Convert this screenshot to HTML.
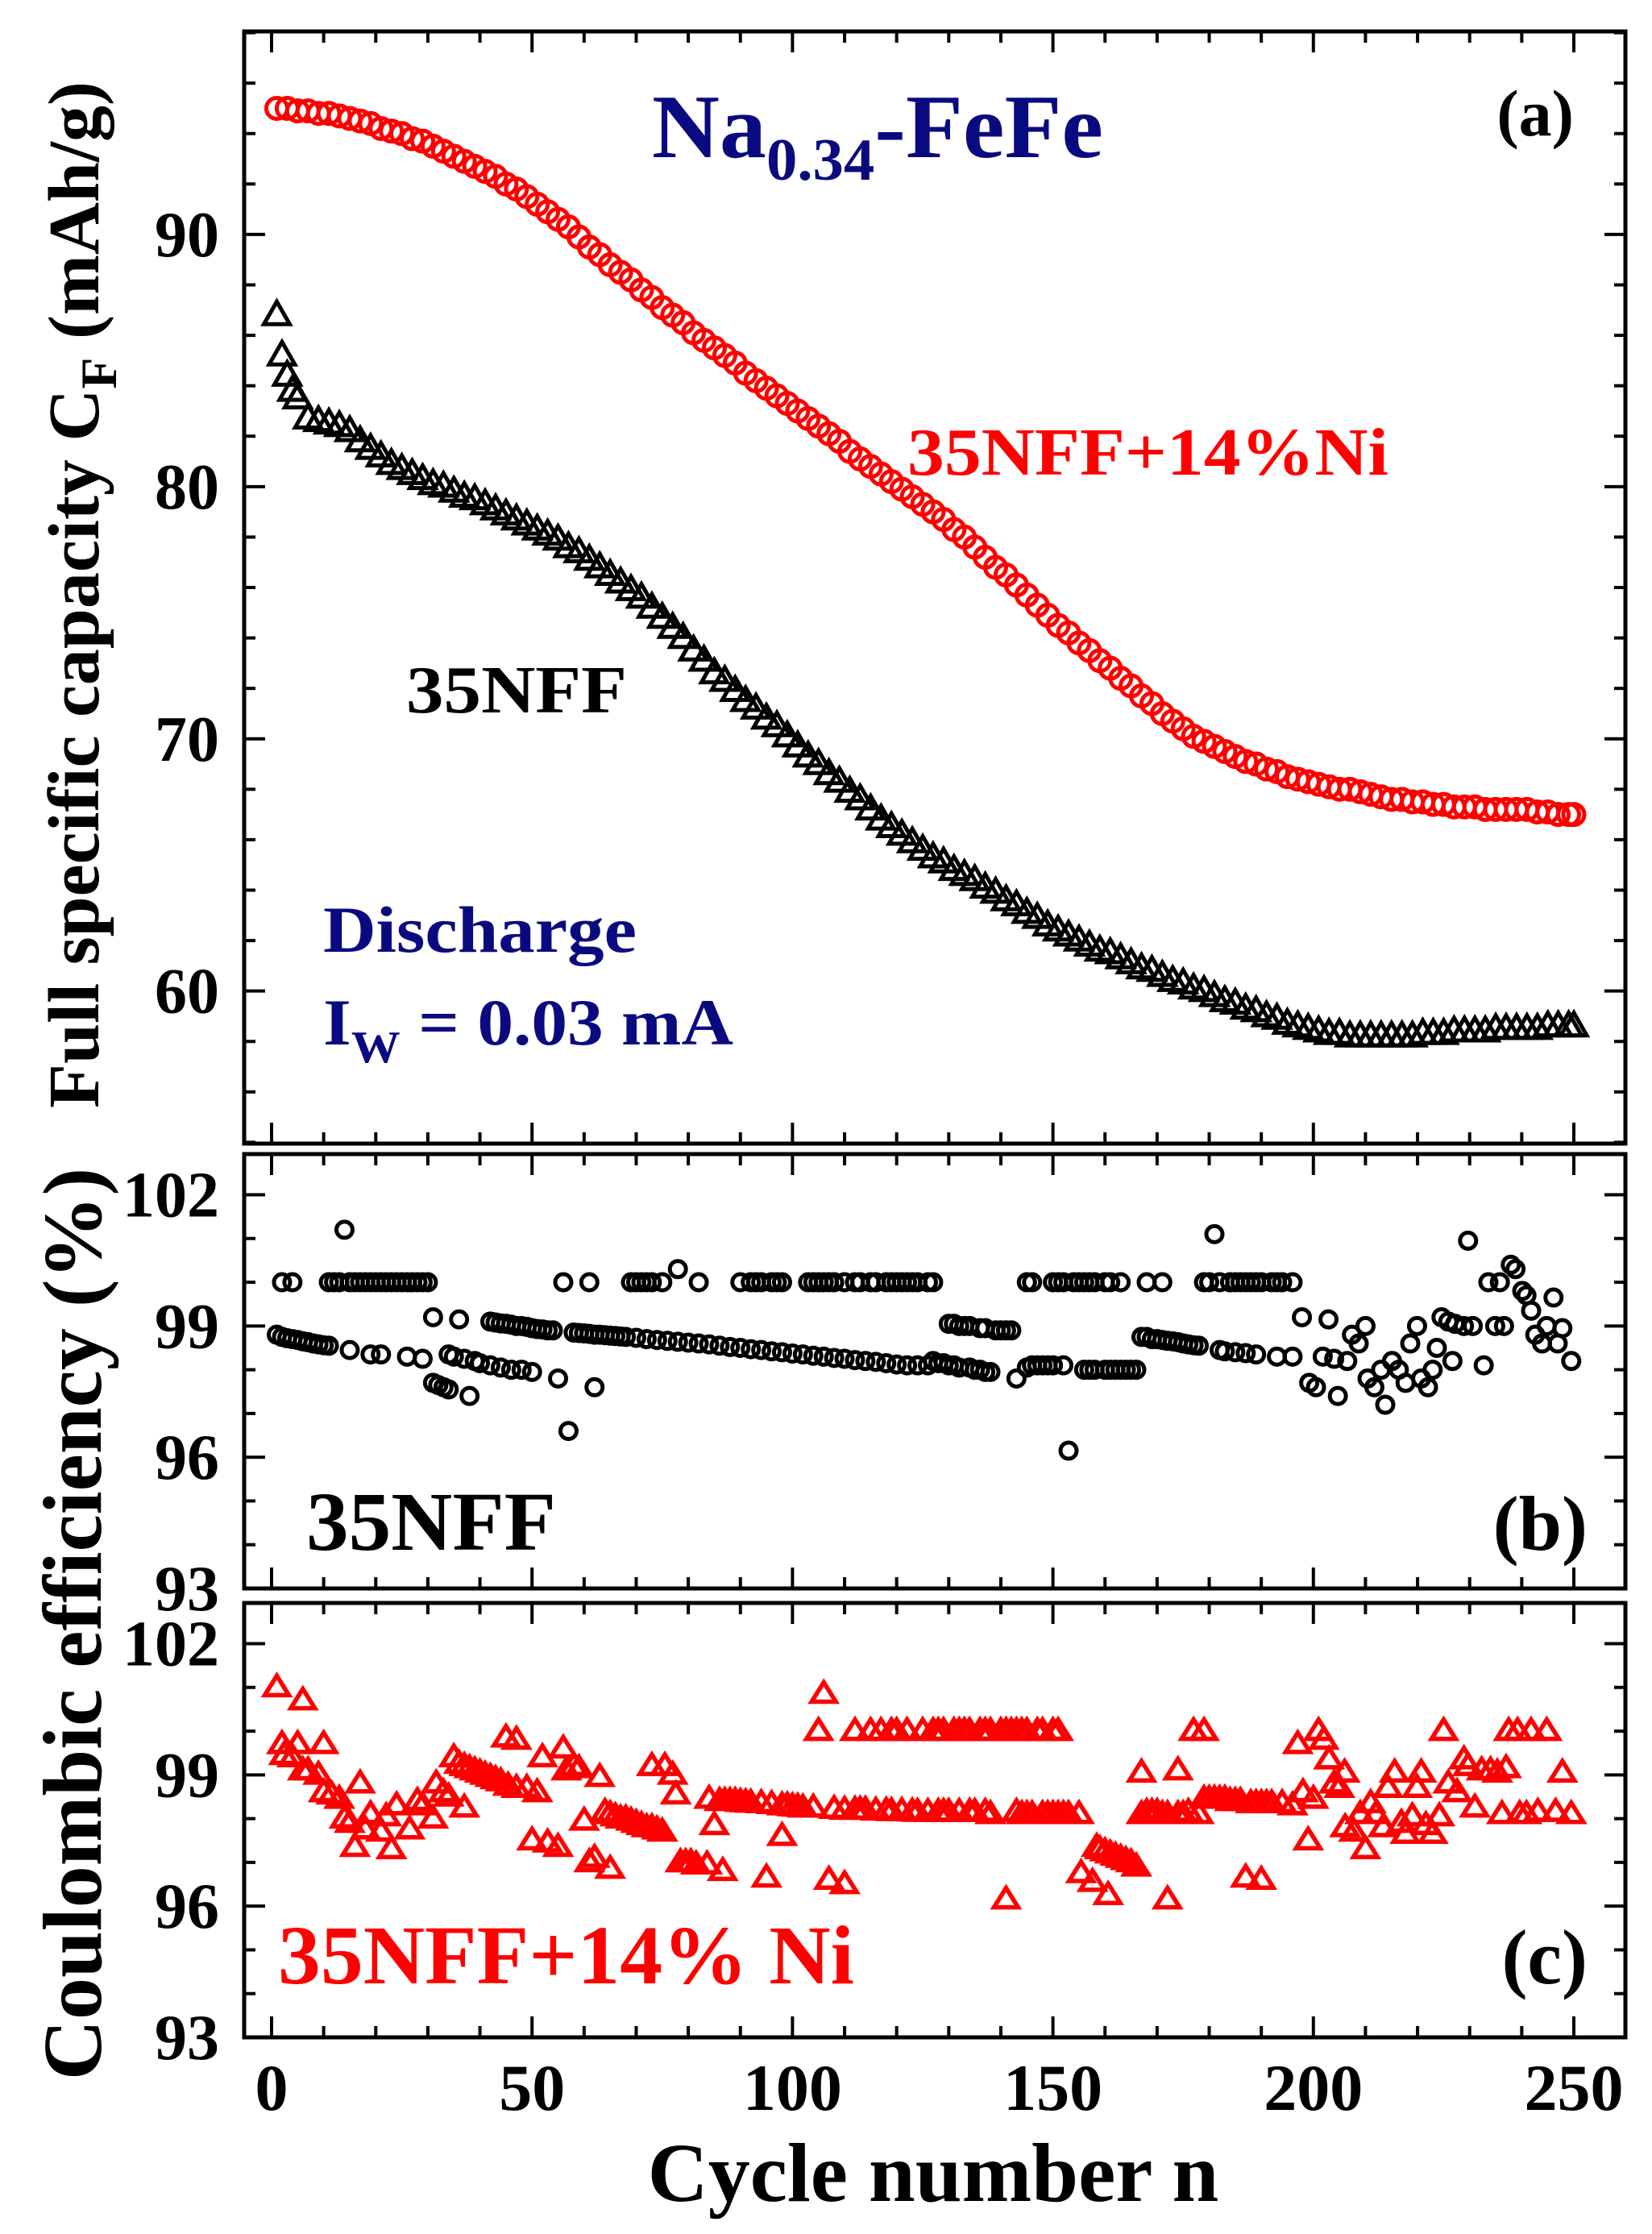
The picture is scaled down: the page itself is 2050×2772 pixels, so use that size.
<!DOCTYPE html>
<html><head><meta charset="utf-8"><style>
html,body{margin:0;padding:0;background:#fff;}
svg{display:block;}
text{font-family:"Liberation Serif",serif;font-weight:bold;}
</style></head><body>
<svg id="chart" width="2050" height="2772" viewBox="0 0 2050 2772" xmlns="http://www.w3.org/2000/svg">
<g id="frames"></g>
<g id="ticks"></g>
<g id="marks"></g>
<g id="labels"></g>
<text transform="translate(122,738) rotate(-90)" text-anchor="middle" font-size="90">Full specific capacity C<tspan font-size="64" dy="22">F</tspan><tspan dy="-22"> (mAh/g)</tspan></text>
<text transform="translate(125,2015) rotate(-90)" text-anchor="middle" font-size="104" font-weight="normal">Coulombic efficiency (%)</text>
<text x="1158" y="2731" text-anchor="middle" font-size="104">Cycle number n</text>
<text x="809" y="195" font-size="112" fill="#0a0a80" textLength="560" lengthAdjust="spacingAndGlyphs">Na<tspan font-size="74" dy="28">0.34</tspan><tspan dy="-28">-FeFe</tspan></text>
<text x="1953" y="168" text-anchor="end" font-size="82">(a)</text>
<text x="1126" y="589" font-size="84" fill="#ff0000" textLength="597" lengthAdjust="spacingAndGlyphs">35NFF+14%Ni</text>
<text x="504" y="884" font-size="84" textLength="274" lengthAdjust="spacingAndGlyphs">35NFF</text>
<text x="401" y="1181" font-size="82" fill="#0a0a80" textLength="389" lengthAdjust="spacingAndGlyphs">Discharge</text>
<text x="401" y="1296" font-size="82" fill="#0a0a80" textLength="509" lengthAdjust="spacingAndGlyphs">I<tspan font-size="56" dy="22">W</tspan><tspan dy="-22"> = 0.03 mA</tspan></text>
<text x="380" y="1923" font-size="104" textLength="310" lengthAdjust="spacingAndGlyphs">35NFF</text>
<text x="1970" y="1923" text-anchor="end" font-size="96">(b)</text>
<text x="345" y="2461" font-size="104" fill="#ff0000" textLength="715" lengthAdjust="spacingAndGlyphs">35NFF+14% Ni</text>
<text x="1970" y="2461" text-anchor="end" font-size="96">(c)</text>
</svg>
<script>
// ---- data ----
const capCyclesRed = [1,3,5,7,9,11,13,15,17,19,21,23,25,27,29,31,33,35,37,39,41,43,45,47,49,51,53,55,57,59,61,63,65,67,69,71,73,75,77,79,81,83,85,87,89,91,93,95,97,99,101,103,105,107,109,111,113,115,117,119,121,123,125,127,129,131,133,135,137,139,141,143,145,147,149,151,153,155,157,159,161,163,165,167,169,171,173,175,177,179,181,183,185,187,189,191,193,195,197,199,201,203,205,207,209,211,213,215,217,219,221,223,225,227,229,231,233,235,237,239,241,243,245,247,249,250];
const capRed = [95.0,95.0,94.9,94.9,94.8,94.8,94.7,94.6,94.5,94.4,94.2,94.1,94.0,93.8,93.7,93.5,93.3,93.1,92.9,92.7,92.5,92.3,92.0,91.8,91.5,91.2,90.9,90.6,90.3,89.9,89.5,89.2,88.8,88.5,88.2,87.8,87.5,87.1,86.8,86.5,86.1,85.8,85.5,85.2,84.9,84.5,84.2,83.9,83.6,83.3,83.0,82.7,82.4,82.1,81.8,81.4,81.1,80.8,80.5,80.2,79.9,79.6,79.3,79.0,78.7,78.3,78.0,77.6,77.2,76.8,76.5,76.1,75.7,75.3,74.9,74.5,74.2,73.8,73.5,73.1,72.8,72.4,72.1,71.7,71.4,71.0,70.7,70.4,70.1,69.9,69.7,69.5,69.3,69.1,69.0,68.8,68.7,68.5,68.4,68.3,68.2,68.1,68.0,68.0,67.9,67.8,67.7,67.6,67.6,67.5,67.5,67.4,67.4,67.3,67.3,67.3,67.2,67.2,67.2,67.2,67.2,67.1,67.1,67.0,67.0,67.0];
const capCyclesBlack = [1,2,3,4,5,7,9,11,13,15,17,19,21,23,25,27,29,31,33,35,37,39,41,43,45,47,49,51,53,55,57,59,61,63,65,67,69,71,73,75,77,79,81,83,85,87,89,91,93,95,97,99,101,103,105,107,109,111,113,115,117,119,121,123,125,127,129,131,133,135,137,139,141,143,145,147,149,151,153,155,157,159,161,163,165,167,169,171,173,175,177,179,181,183,185,187,189,191,193,195,197,199,201,203,205,207,209,211,213,215,217,219,221,223,225,227,229,231,233,235,237,239,241,243,245,247,249,250];
const capBlack = [86.8,85.2,84.4,83.8,83.5,82.7,82.6,82.5,82.4,82.2,81.8,81.5,81.2,80.9,80.7,80.5,80.3,80.1,80.0,79.8,79.6,79.5,79.3,79.1,78.9,78.7,78.5,78.3,78.1,77.9,77.6,77.4,77.1,76.8,76.5,76.2,75.9,75.6,75.2,74.8,74.4,74.0,73.5,73.1,72.6,72.3,71.9,71.5,71.2,70.8,70.5,70.1,69.7,69.3,69.0,68.6,68.3,67.9,67.6,67.2,66.8,66.5,66.2,65.9,65.6,65.3,65.1,64.8,64.6,64.4,64.1,63.9,63.6,63.4,63.1,62.9,62.6,62.4,62.2,62.0,61.8,61.6,61.5,61.3,61.1,60.9,60.8,60.6,60.4,60.3,60.1,60.0,59.8,59.6,59.5,59.3,59.2,59.0,58.9,58.7,58.6,58.5,58.4,58.3,58.3,58.2,58.2,58.2,58.2,58.2,58.2,58.2,58.3,58.3,58.3,58.4,58.4,58.4,58.4,58.5,58.5,58.5,58.5,58.5,58.6,58.6,58.6,58.6];
const ceNFF = [[2,100],[4,100],[11,100],[12,100],[13,100],[14,101.2],[15,100],[16,100],[17,100],[18,100],[19,100],[20,100],[21,100],[22,100],[23,100],[24,100],[25,100],[26,100],[27,100],[28,100],[29,100],[30,100],[56,100],[61,100],[69,100],[70,100],[71,100],[72,100],[73,100],[75,100],[78,100.3],[82,100],[90,100],[92,100],[93,100],[94,100],[96,100],[97,100],[98,100],[103,100],[104,100],[105,100],[106,100],[107,100],[108,100],[110,100],[112,100],[113,100],[115,100],[116,100],[118,100],[119,100],[120,100],[121,100],[122,100],[123,100],[124,100],[126,100],[127,100],[145,100],[146,100],[150,100],[151,100],[152,100],[154,100],[155,100],[156,100],[157,100],[158,100],[160,100],[161,100],[163,100],[168,100],[171,100],[179,100],[180,100],[181,101.1],[182,100],[184,100],[185,100],[186,100],[187,100],[188,100],[189,100],[190,100],[192,100],[193,100],[194,100],[196,100],
[1,98.8],[2,98.75],[3,98.72],[4,98.7],[5,98.68],[6,98.65],[7,98.63],[8,98.6],[9,98.58],[10,98.56],[11,98.55],[15,98.45],[19,98.35],[21,98.35],[26,98.3],[29,98.25],[31,99.2],[36,99.15],[31,97.7],[32,97.65],[33,97.6],[34,97.55],[38,97.4],[34,98.35],[35,98.3],[37,98.25],[39,98.2],[40,98.15],[42,98.1],[44,98.05],[46,98.0],[48,98.0],[50,97.95],[42,99.1],[43,99.08],[44,99.06],[45,99.05],[46,99.03],[47,99.0],[48,99.0],[49,98.98],[50,98.95],[51,98.93],[52,98.92],[53,98.9],[54,98.9],[55,97.8],[57,96.6],[62,97.6],
[58,98.85],[59,98.84],[60,98.83],[61,98.82],[62,98.8],[63,98.8],[64,98.79],[65,98.78],[66,98.77],[67,98.76],[68,98.75],[70,98.73],[72,98.7],[74,98.68],[76,98.66],[78,98.64],[80,98.62],[82,98.6],[84,98.58],[86,98.55],[88,98.52],[90,98.5],[92,98.47],[94,98.45],[96,98.42],[98,98.4],[100,98.37],[102,98.35],[104,98.32],[106,98.3],[108,98.27],[110,98.25],[112,98.22],[114,98.2],[116,98.18],[118,98.15],[120,98.12],[122,98.1],[124,98.1],[126,98.1],
[127,98.2],[128,98.15],[129,98.15],[130,98.1],[131,98.1],[132,98.05],[134,98.05],[135,98.0],[136,98.0],[137,97.95],[138,97.95],
[130,99.05],[131,99.05],[132,99.0],[133,99.0],[134,99.0],[136,98.95],[137,98.95],[139,98.9],[140,98.9],[141,98.9],[142,98.9],
[143,97.8],[145,98.05],[146,98.1],[147,98.1],[148,98.1],[149,98.1],[150,98.1],[152,98.1],[153,96.15],[156,98.0],[157,98.0],[158,98.0],[160,98.0],[161,98.0],[162,98.0],[163,98.0],[164,98.0],[165,98.0],[166,98.0],
[167,98.75],[168,98.75],[169,98.7],[170,98.7],[171,98.68],[172,98.66],[173,98.65],[174,98.63],[175,98.6],[176,98.58],[177,98.56],[178,98.55],[182,98.45],[183,98.42],[185,98.4],[187,98.38],[189,98.35],[193,98.3],[196,98.3],
[197.8,99.2],[202.9,99.15],[199.2,97.7],[200.5,97.6],[204.7,97.4],[201.8,98.3],[204,98.25],[206.5,98.2],[207.4,98.8],[208.7,98.6],[210,99.0],[210.4,97.8],[211.7,97.6],[213,98.0],[213.8,97.2],[215.1,98.2],[216.4,98.0],[217.7,97.7],[218.6,98.6],[219.9,99.0],[220.7,97.8],[222,97.6],[222.9,98.0],[223.7,98.5],[224.6,99.2],[225.9,99.1],[227.2,99.05],[226.7,98.2],[228.9,99.0],[230.6,99.0],[229.7,100.95],[232.7,98.1],[233.6,100.0],[235.8,100.0],[234.9,99.0],[236.6,99.0],[237.9,100.4],[238.8,100.3],[240.1,99.8],[240.9,99.7],[241.8,99.35],[242.6,98.8],[243.9,98.6],[244.8,99.0],[246.9,98.6],[247.8,98.95],[246.1,99.65],[249.5,98.2]];
const ceNi = [[1,101.0],[6,100.7],[2,99.7],[5,99.7],[10,99.7],[2.4,99.45],[4,99.4],[6,99.1],[7,99.1],[9,99.0],[10,98.6],[11.5,98.55],[13,98.45],[14,98.0],[15,97.9],[17,98.8],[16,97.35],[18,97.75],[19,98.1],[21,97.7],[23,97.3],[22,98.05],[24,98.3],[26.5,97.75],[28,98.4],[29,98.3],[31,98.0],[31.6,98.8],[33,98.6],[34,98.5],[37,98.25],[35,99.4],
[36,99.25],[37,99.2],[38,99.15],[39,99.1],[40,99.05],[41,99.0],[42,98.95],[43,98.9],[44,98.85],
[45,99.85],[47,99.8],[45.4,98.75],[47,98.7],[49,98.7],[51,98.6],[50,97.5],[52,99.4],[53,97.45],[55,97.35],[56,99.6],[56.6,99.1],[58,99.2],[59,99.15],[63,98.95],[60,97.95],[61,97.0],[62,97.1],[65,96.85],
[64,98.15],[65,98.1],[66,98.05],[67,98.0],[68,98.0],[69,97.95],[70,97.9],[71,97.85],[72,97.8],[73,97.8],[74,97.75],[75,97.7],
[73,99.2],[75.5,99.2],[77,99.0],[77.6,98.55],[78.5,97.0],[79.5,97.0],[80.5,97.0],[81.5,96.95],[83.6,96.95],[86.6,96.8],[84,98.45],[85,97.85],
[86,98.4],[87,98.4],[88,98.4],[89,98.4],[90,98.38],[91,98.37],[92,98.36],[94,98.35],[96,98.33],[98,98.3],[99,98.3],[100,98.28],[101,98.27],[102,98.25],[104,98.25],[108,98.22],[110,98.2],[112,98.2],[113,98.2],[114,98.2],[116,98.18],[118,98.18],[119,98.17],[121,98.17],[123,98.16],[124,98.15],[126,98.15],[128,98.15],
[95,96.65],[98,97.6],[106,100.85],[105,100.0],[107,96.6],[110,96.5],
[112,100],[115,100],[117,100],[119,100],[120,100],[122,100],[125,100],[127,100],[128,100],[129,100],[131,100],[132,100],[133,100],[134,100],[136,100],[137,100],[138,100],[140,100],[141,100],[142,100],[143,100],[144,100],[145,100],[147,100],[148,100],[150,100],[151,100],
[129,98.15],[130,98.15],[132,98.15],[134,98.15],[135,98.15],[137,98.15],[138,98.1],[143,98.15],[144,98.1],[145,98.1],[146,98.1],[148,98.1],[149,98.1],[150,98.1],[151,98.1],[152,98.1],[153,98.1],[155,98.1],
[141,96.15],[155.4,96.75],[157.6,96.55],[160.6,96.25],[158.4,97.35],[159,97.3],[160,97.25],[161,97.2],[162,97.15],[163,97.1],[164,97.05],[165,97.0],[166,96.9],
[167,99.05],[174,99.1],[172,96.15],
[167,98.1],[168,98.15],[169,98.15],[170,98.15],[171,98.1],[172,98.1],[174,98.1],[175,98.1],[176,98.15],[178,98.1],
[177,100],[179,100],
[179,98.45],[180,98.45],[181,98.45],[182,98.45],[183,98.45],[184,98.4],[185,98.4],[186,98.4],[188,98.35],[189,98.35],[190,98.35],[191,98.35],[192,98.35],[194,98.35],[196,98.3],
[187,96.65],[190,96.6],
[197,99.7],[201,100.0],[202,99.8],[203,99.35],[206,99.05],[204,98.8],[205,98.7],[198,98.6],[200,98.45],[199,97.5],
[206.1,97.8],[207.8,97.7],[209,98.1],[210,97.3],[211,98.35],[212,98.1],[213.4,97.8],
[215.6,99.05],[214.3,98.7],[216.9,97.9],[217.7,97.65],[219,98.05],[219.9,98.7],[220.7,99.05],[221.6,97.85],[222.9,97.65],[224.2,98.05],
[225,100],[225.9,98.8],[227.6,98.6],[228.9,99.35],[229.7,99.2],[231,98.25],[232.3,99.1],[234,99.1],[235.3,99.05],[237,99.15],
[236.2,98.1],[239.6,98.1],[240.9,98.1],[243.1,98.15],[246.5,98.15],[249.5,98.1],
[237.5,100],[239.2,100],[241.8,100],[244.8,100],[247.8,99.05]];
const xTickLabels = [0,50,100,150,200,250];
const capTickLabels = [60,70,80,90];
const ceTickLabels = [93,96,99,102];

// ---- layout / axes ----
const NS = 'http://www.w3.org/2000/svg';
const L = 303, R = 2017;
const panels = {
  a:{top:39,bottom:1419,ymin:53.95,ymax:98.05},
  b:{top:1432,bottom:1971,ymin:93,ymax:102.93},
  c:{top:1989,bottom:2528,ymin:93,ymax:102.93}
};
function xScale(c){ return 337 + (c/250)*(1953-337); }
function yScale(p,v){ const P=panels[p]; return P.bottom - (v-P.ymin)/(P.ymax-P.ymin)*(P.bottom-P.top); }
function mk(tag, attrs, parent){ const e=document.createElementNS(NS,tag); for(const k in attrs) e.setAttribute(k,attrs[k]); parent.appendChild(e); return e; }

const gF = document.getElementById('frames'), gT = document.getElementById('ticks'), gM = document.getElementById('marks'), gL = document.getElementById('labels');

for (const p of ['a','b','c']) {
  const P = panels[p];
  const fr = mk('rect',{x:L,y:P.top,width:R-L,height:P.bottom-P.top,fill:'none',stroke:'#000','stroke-width':5},gF);
  
  
  for (let c=0;c<=250;c+=10){
    const x = xScale(c), len = (c%50===0)?26:14;
    mk('line',{x1:x,y1:P.bottom,x2:x,y2:P.bottom-len,stroke:'#000','stroke-width':4},gT);
    mk('line',{x1:x,y1:P.top,x2:x,y2:P.top+len,stroke:'#000','stroke-width':4},gT);
  }
  let step = (p==='a') ? 2 : 1;
  const start = Math.ceil(P.ymin/step)*step;
  for (let v=start; v<=P.ymax; v+=step){
    const y = yScale(p,v);
    const isMaj = (p==='a') ? (Math.round(v)%10===0) : ((Math.round(v)-93)%3===0);
    const len = isMaj?26:14;
    mk('line',{x1:L,y1:y,x2:L+len,y2:y,stroke:'#000','stroke-width':4},gT);
    mk('line',{x1:R,y1:y,x2:R-len,y2:y,stroke:'#000','stroke-width':4},gT);
  }
}
for (const v of capTickLabels){
  const t = mk('text',{x:272,y:yScale('a',v)+27,'text-anchor':'end','font-size':80},gL);
  t.textContent = v;
  
  
}
for (const p of ['b','c']) for (const v of ceTickLabels){
  const t = mk('text',{x:272,y:yScale(p,v)+27,'text-anchor':'end','font-size':80},gL);
  t.textContent = v;
  
  
}
for (const c of xTickLabels){
  const t = mk('text',{x:xScale(c),y:2618,'text-anchor':'middle','font-size':82},gL);
  t.textContent = c;
  
  
}

function circle(x,y,r,sw,col,name){
  const e = mk('circle',{cx:x,cy:y,r:r,fill:'none',stroke:col,'stroke-width':sw},gM);
  
  
}
function tri(x,y,w,h,sw,col,name){
  const pts = [x,y-h*0.6, x-w/2,y+h*0.4, x+w/2,y+h*0.4].join(',');
  const e = mk('polygon',{points:pts,fill:'none',stroke:col,'stroke-width':sw,'stroke-linejoin':'miter'},gM);
  
  
}
capCyclesBlack.forEach((c,i)=>{ tri(xScale(c), yScale('a',capBlack[i]), 32, 28, 5, '#000', 'capacity-35nff-point'); });
capCyclesRed.forEach((c,i)=>{ circle(xScale(c), yScale('a',capRed[i]), 13, 5, '#ff0000', 'capacity-35nff-ni-point'); });
ceNFF.forEach(d=>{ circle(xScale(d[0]), yScale('b',d[1]), 10, 5, '#000', 'efficiency-35nff-point'); });
ceNi.forEach(d=>{ tri(xScale(d[0]), yScale('c',d[1]), 30, 24, 5.5, '#ff0000', 'efficiency-35nff-ni-point'); });
</script>
</body></html>
